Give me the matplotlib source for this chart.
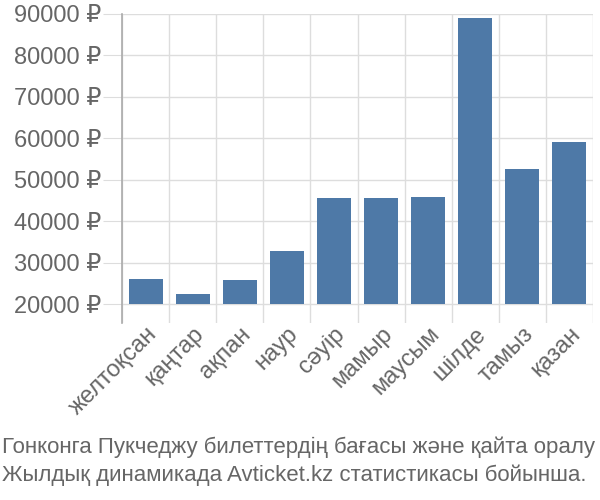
import matplotlib
matplotlib.use("Agg")
import matplotlib.pyplot as plt
import numpy as np

months = ["желтоқсан", "қаңтар", "ақпан", "наур", "сәуір", "мамыр", "маусым", "шілде", "тамыз", "қазан"]
prices = [26000, 22400, 25900, 32900, 45600, 45600, 45750, 89100, 52600, 59100]
yticks = [20000, 30000, 40000, 50000, 60000, 70000, 80000, 90000]
caption = ["Гонконга Пукчеджу билеттердің бағасы және қайта оралу",
           "Жылдық динамикада Avticket.kz статистикасы бойынша."]

plt.rcParams['font.family'] = ['Liberation Sans', 'DejaVu Sans']

fig = plt.figure(figsize=(6, 5), dpi=100)
ax = fig.add_axes([122/600, 1-323/500, (593-122)/600, (323-14)/500])

x = np.arange(len(months))
base = yticks[0]
ax.bar(x, [p - base for p in prices], bottom=base, width=0.72, color="#4e79a7", zorder=3)

ax.set_xlim(-0.5, len(months) - 0.5)
ax.set_ylim(base - 19/41.43*10000, yticks[-1])
ax.set_yticks(yticks)
ax.set_yticklabels([f"{v} ₽" for v in yticks])
ax.set_xticks(x)
ax.set_xticklabels(months, rotation=45, ha="right", va="top", rotation_mode="anchor")
ax.set_xticks(np.arange(-0.5, len(months)), minor=True)

ax.grid(False)
ax.xaxis.grid(True, which="minor", color="#dddddd", linewidth=1)
ax.yaxis.grid(True, which="major", color="#dddddd", linewidth=1)
ax.set_axisbelow(True)

for s in ["top", "right", "bottom"]:
    ax.spines[s].set_visible(False)
ax.spines["left"].set_color("#aaaaaa")
ax.spines["left"].set_linewidth(1.2)

ax.tick_params(axis="y", length=14, color="#dddddd", pad=1, labelsize=17, labelcolor="#666666")
ax.tick_params(axis="x", which="major", length=0, pad=0, labelsize=17, labelcolor="#666666")
ax.tick_params(axis="x", which="minor", length=0)

fig.text(0.003, 1-447/500, caption[0], ha="left", va="center", fontsize=16, color="#666666")
fig.text(0.003, 1-475/500, caption[1], ha="left", va="center", fontsize=16, color="#666666")

fig.savefig("out.png", dpi=100)
